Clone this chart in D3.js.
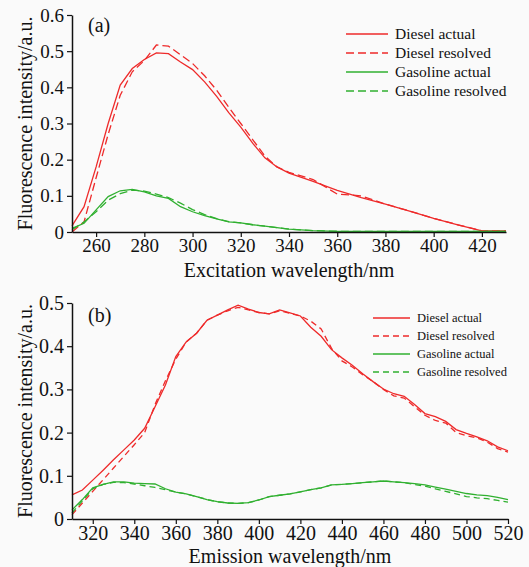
<!DOCTYPE html>
<html>
<head>
<meta charset="utf-8">
<script src="https://cdn.jsdelivr.net/npm/d3@7"></script>
</head>
<body style="margin:0; background:#fafafa">
<script>
// panel (a) - excitation spectra
var excWave = [250, 255, 260, 265, 270, 275, 280, 285, 290, 295, 300, 305, 310, 315, 320, 325, 330, 335, 340,
	350, 360, 370, 380, 390, 400, 410, 420, 430];
var excDieselActual = [0.017, 0.07, 0.18, 0.30, 0.406, 0.452, 0.477, 0.495, 0.493, 0.47, 0.449, 0.415, 0.375, 0.33, 0.29, 0.245, 0.205, 0.18, 0.163,
	0.14, 0.115, 0.095, 0.077, 0.058, 0.038, 0.02, 0.003, 0.003];
var excDieselResolved = [0.0, 0.028, 0.15, 0.27, 0.378, 0.443, 0.474, 0.517, 0.514, 0.49, 0.466, 0.432, 0.392, 0.345, 0.3, 0.255, 0.21, 0.18, 0.165,
	0.145, 0.105, 0.1, 0.077, 0.058, 0.038, 0.02, 0.003, 0.003];
var excGasActual = [0.01, 0.024, 0.061, 0.098, 0.114, 0.118, 0.111, 0.1, 0.093, 0.07, 0.056, 0.045, 0.036, 0.028, 0.025, 0.02, 0.016, 0.012, 0.008,
	0.004, 0.002, 0.002, 0.002, 0.002, 0.002, 0.002, 0.002, 0.002];
var excGasResolved = [0.006, 0.028, 0.056, 0.088, 0.106, 0.116, 0.113, 0.105, 0.095, 0.08, 0.062, 0.048, 0.037, 0.029, 0.025, 0.02, 0.016, 0.012, 0.008,
	0.004, 0.002, 0.002, 0.002, 0.002, 0.002, 0.002, 0.002, 0.002];
var excXTicks = [260, 280, 300, 320, 340, 360, 380, 400, 420];
var excYTicks = [0, 0.1, 0.2, 0.3, 0.4, 0.5, 0.6];

// panel (b) - emission spectra
var emWave = [310, 315, 320, 325, 330, 335, 340, 345, 350, 355, 360, 365, 370, 375, 380, 385, 390, 395, 400, 405, 410, 415,
	420, 425, 430, 435, 440, 445, 450, 455, 460, 465, 470, 475, 480, 485, 490, 495, 500, 505, 510, 515, 520];
var emDieselActual = [0.056, 0.067, 0.09, 0.113, 0.137, 0.16, 0.183, 0.21, 0.26, 0.31, 0.376, 0.41, 0.43, 0.46, 0.472, 0.484, 0.495, 0.486, 0.478, 0.475, 0.484, 0.477,
	0.47, 0.444, 0.423, 0.392, 0.373, 0.356, 0.336, 0.318, 0.301, 0.29, 0.284, 0.265, 0.244, 0.237, 0.226, 0.207, 0.198, 0.19, 0.181, 0.167, 0.158];
var emDieselResolved = [0.01, 0.037, 0.064, 0.091, 0.118, 0.145, 0.172, 0.2, 0.265, 0.32, 0.37, 0.41, 0.43, 0.46, 0.472, 0.482, 0.49, 0.484, 0.478, 0.475, 0.482, 0.476,
	0.47, 0.458, 0.44, 0.395, 0.366, 0.352, 0.334, 0.318, 0.3, 0.285, 0.28, 0.26, 0.24, 0.228, 0.222, 0.2, 0.193, 0.188, 0.178, 0.163, 0.155];
var emGasActual = [0.021, 0.045, 0.072, 0.08, 0.086, 0.086, 0.083, 0.082, 0.081, 0.07, 0.062, 0.058, 0.052, 0.045, 0.04, 0.037, 0.036, 0.038, 0.044, 0.052, 0.055, 0.058,
	0.063, 0.068, 0.072, 0.079, 0.08, 0.082, 0.084, 0.086, 0.088, 0.086, 0.084, 0.082, 0.079, 0.074, 0.069, 0.064, 0.059, 0.056, 0.054, 0.05, 0.045];
var emGasResolved = [0.014, 0.042, 0.07, 0.08, 0.085, 0.084, 0.081, 0.077, 0.073, 0.068, 0.062, 0.058, 0.052, 0.045, 0.04, 0.037, 0.036, 0.038, 0.044, 0.052, 0.055, 0.058,
	0.063, 0.068, 0.072, 0.079, 0.08, 0.082, 0.084, 0.086, 0.088, 0.086, 0.084, 0.08, 0.076, 0.07, 0.064, 0.058, 0.052, 0.049, 0.047, 0.043, 0.039];
var emXTicks = [320, 340, 360, 380, 400, 420, 440, 460, 480, 500, 520];
var emYTicks = [0, 0.1, 0.2, 0.3, 0.4, 0.5];

var legendNames = ["Diesel actual", "Diesel resolved", "Gasoline actual", "Gasoline resolved"];

var red = "#ee2a2a", green = "#30b030";
var fontName = "Liberation Serif";

var svg = d3.select("body").append("svg")
	.attr("width", 529)
	.attr("height", 567)
	.style("display", "block");

svg.append("rect").attr("width", 529).attr("height", 567).attr("fill", "#fafafa");

// every label goes through here so the serif face sticks
function label(sel, size) {
	sel.style("font-family", "'" + fontName + "'")
		.attr("font-family", fontName)
		.attr("font-size", size)
		.attr("fill", "#111");
	return sel;
}

function drawPanel(p) {
	var x = d3.scaleLinear().domain(p.xDomain).range([p.left, p.right]);
	var y = d3.scaleLinear().domain(p.yDomain).range([p.bottom, p.top]);
	var yFmt = function(d) { return d === 0 ? "0" : d3.format(".1f")(d); };

	var series = [
		{ vals: p.dieselActual, color: red, dash: null },
		{ vals: p.dieselResolved, color: red, dash: p.dash },
		{ vals: p.gasActual, color: green, dash: null },
		{ vals: p.gasResolved, color: green, dash: p.dash }
	];

	var line = d3.line()
		.x(function(d) { return x(d[0]); })
		.y(function(d) { return y(d[1]); });

	series.forEach(function(s) {
		var pts = p.wave.map(function(w, i) { return [w, s.vals[i]]; });
		svg.append("path")
			.datum(pts)
			.attr("fill", "none")
			.attr("stroke", s.color)
			.attr("stroke-width", 1.3)
			.attr("stroke-dasharray", s.dash)
			.attr("d", line);
	});

	// axes
	var xAxis = svg.append("g")
		.attr("transform", "translate(0," + p.bottom + ")")
		.call(d3.axisBottom(x).tickValues(p.xTicks).tickSize(5).tickSizeOuter(0).tickPadding(2));
	xAxis.attr("font-family", fontName).attr("font-size", p.tickFont);
	label(xAxis.selectAll("text"), p.tickFont);

	var yAxis = svg.append("g")
		.attr("transform", "translate(" + p.left + ",0)")
		.call(d3.axisLeft(y).tickValues(p.yTicks).tickFormat(yFmt).tickSize(5).tickSizeOuter(0).tickPadding(3));
	yAxis.attr("font-family", fontName).attr("font-size", p.tickFont);
	label(yAxis.selectAll("text"), p.tickFont);

	svg.selectAll(".domain").attr("stroke", "#111").attr("stroke-width", 1.5);
	svg.selectAll(".tick line").attr("stroke", "#111").attr("stroke-width", 1.2);

	// titles
	label(svg.append("text"), 20)
		.attr("x", (p.left + p.right) / 2)
		.attr("y", p.xTitleY)
		.attr("text-anchor", "middle")
		.text(p.xTitle);

	label(svg.append("text"), 20)
		.attr("transform", "translate(32," + (p.top + p.bottom) / 2 + ") rotate(-90)")
		.attr("text-anchor", "middle")
		.text("Fluorescence intensity/a.u.");

	label(svg.append("text"), 20)
		.attr("x", 88)
		.attr("y", p.tagY)
		.text(p.tag);

	// legend
	legendNames.forEach(function(name, i) {
		var s = series[i];
		var ly = p.legY + i * p.legStep;
		svg.append("line")
			.attr("x1", p.legX1).attr("x2", p.legX2)
			.attr("y1", ly).attr("y2", ly)
			.attr("stroke", s.color)
			.attr("stroke-width", 1.3)
			.attr("stroke-dasharray", s.dash);
		label(svg.append("text"), p.legFont)
			.attr("x", p.legX2 + 7)
			.attr("y", ly)
			.attr("dy", "0.33em")
			.text(name);
	});
}

drawPanel({
	wave: excWave, dieselActual: excDieselActual, dieselResolved: excDieselResolved,
	gasActual: excGasActual, gasResolved: excGasResolved,
	xDomain: [250, 430], yDomain: [0, 0.6], xTicks: excXTicks, yTicks: excYTicks,
	left: 72, right: 506, top: 15, bottom: 232,
	tickFont: 19, xTitle: "Excitation wavelength/nm", xTitleY: 277,
	tag: "(a)", tagY: 32,
	legX1: 346, legX2: 388, legY: 34, legStep: 19, legFont: 15.5, dash: "8,4"
});

drawPanel({
	wave: emWave, dieselActual: emDieselActual, dieselResolved: emDieselResolved,
	gasActual: emGasActual, gasResolved: emGasResolved,
	xDomain: [310, 520], yDomain: [0, 0.5], xTicks: emXTicks, yTicks: emYTicks,
	left: 72, right: 508, top: 303, bottom: 519,
	tickFont: 20, xTitle: "Emission wavelength/nm", xTitleY: 563,
	tag: "(b)", tagY: 322,
	legX1: 373, legX2: 410, legY: 318, legStep: 18, legFont: 12.5, dash: "6,4"
});
</script>
</body>
</html>
